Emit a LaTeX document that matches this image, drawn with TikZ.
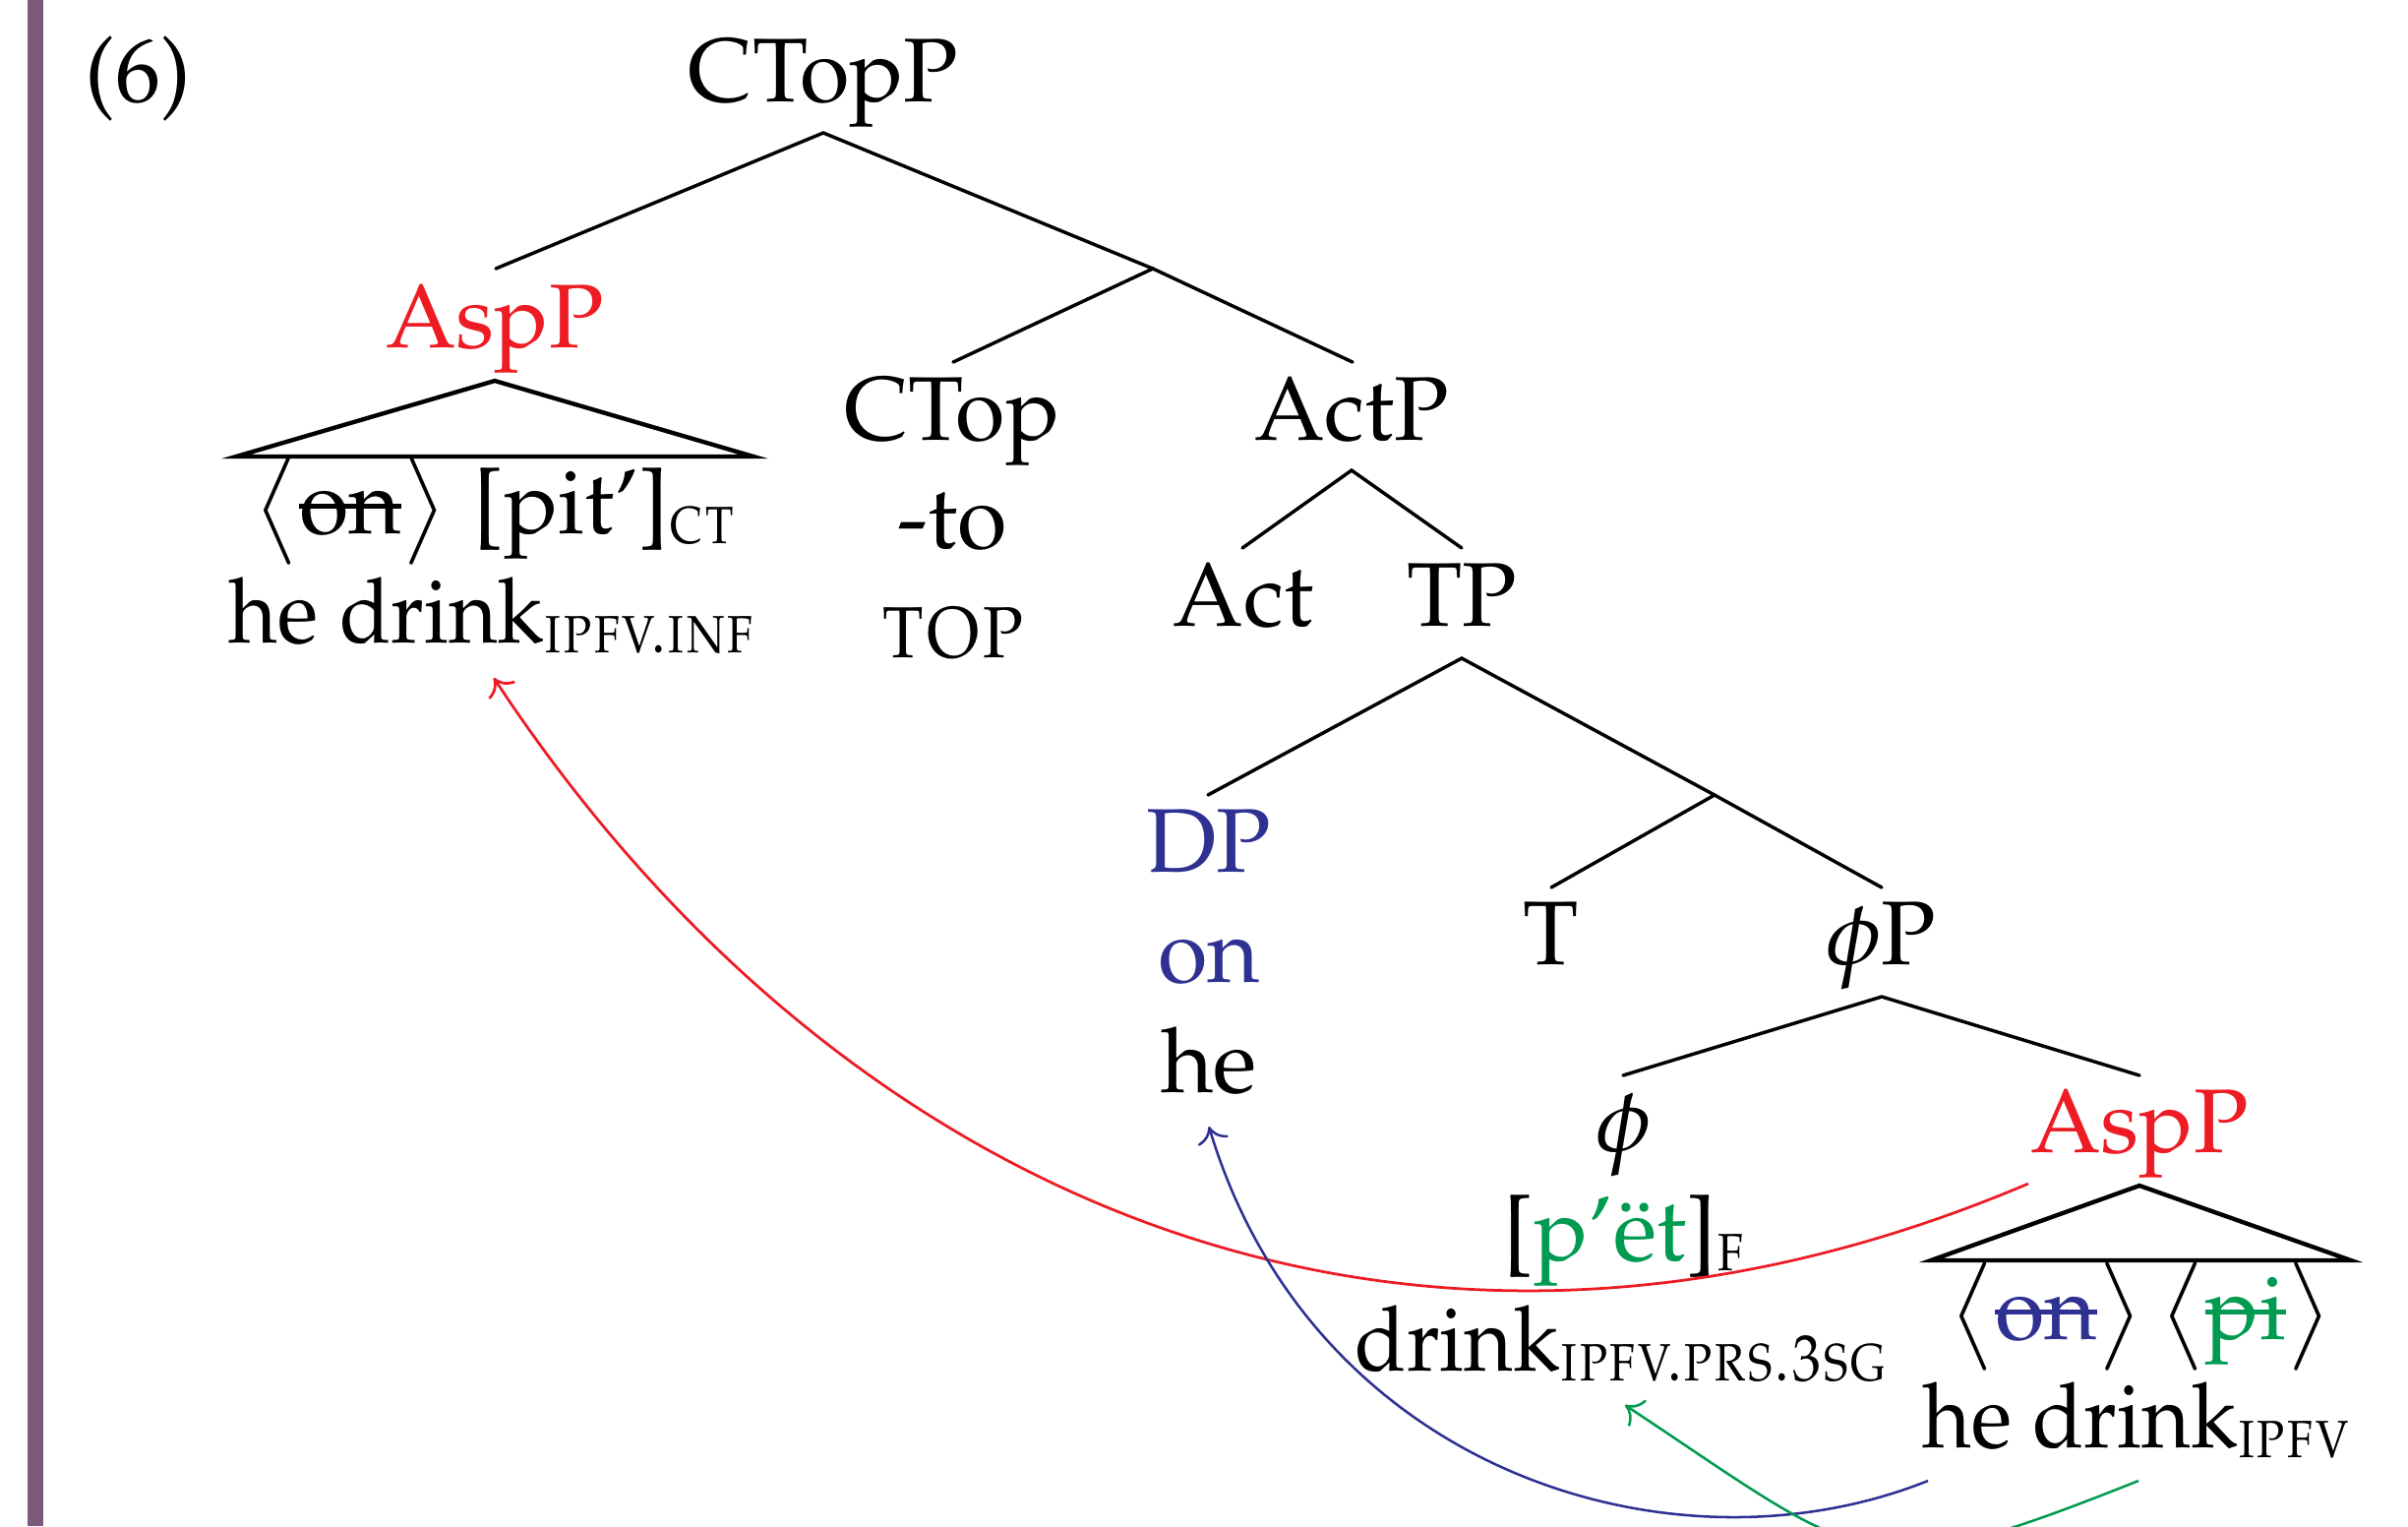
\documentclass[tikz,border=0pt]{standalone}
\usepackage[T1]{fontenc}
\usepackage{mathpazo}
\usepackage{graphicx}
\usetikzlibrary{arrows.meta}
\definecolor{myred}{RGB}{237,28,36}
\definecolor{myblue}{RGB}{46,49,146}
\definecolor{mygreen}{RGB}{0,155,80}
\definecolor{mypurple}{RGB}{125,90,125}
\newcommand\strk[1]{\setbox0=\hbox{#1}\rlap{\raisebox{0.27em}{\rule{\wd0}{0.06em}}}\box0}
\newcommand\gl[1]{\raisebox{-2.2pt}{\scalebox{0.87}[1]{\fontsize{14.5}{14.5}\selectfont\textsc{#1}}}}
\newcommand\nw[1]{\scalebox{0.93}[1]{#1}}
\newcommand\lng{$\bigl\langle$}
\newcommand\rng{$\bigr\rangle$}
\tikzset{
  lbl/.style={anchor=base, inner sep=0pt, font=\fontsize{20}{24}\selectfont},
  branch/.style={line width=0.75pt, line cap=round},
  roof/.style={line width=0.95pt, line join=miter},
  mv/.style={line width=0.6pt, -{Computer Modern Rightarrow[length=3.5pt,width=7pt]}},
}
\begin{document}
\begin{tikzpicture}[x=0.21739pt, y=-0.21739pt]
\useasboundingbox (0,0) rectangle (2448,1551);
\fill[mypurple] (28,0) rectangle (44,1551);

% labels
\node[lbl, anchor=base west] (ex) at (86,103) {(6)};
\node[lbl] (ctopp) at (837,103) {CTopP};
\node[lbl, text=myred] (asp1) at (503,353) {AspP};
\node[lbl] (asp1a) at (503,542) {\lng\strk{on}\rng\hspace{0.3em}[pit']\gl{ct}};
\node[lbl] (asp1b) at (500,653) {\nw{he drink}\gl{ipfv.inf}};
\node[lbl] (ctop) at (968,447) {CTop};
\node[lbl] (to) at (968,557) {-to};
\node[lbl] (topgl) at (969,668) {\scalebox{0.92}[1]{\textsc{top}}};
\node[lbl] (actp) at (1374,447) {ActP};
\node[lbl] (act) at (1264,636) {Act};
\node[lbl] (tp) at (1486,636) {TP};
\node[lbl, text=myblue] (dp) at (1229,886) {DP};
\node[lbl, text=myblue] (on) at (1229,998) {on};
\node[lbl] (he) at (1229,1110) {he};
\node[lbl] (t) at (1577,980) {T};
\node[lbl] (phip) at (1912,980) {$\phi$P};
\node[lbl] (phi) at (1651,1170) {$\phi$};
\node[lbl] (pet) at (1651,1281) {[\textcolor{mygreen}{p'\"et}]\gl{f}};
\node[lbl] (drink) at (1648,1393) {\nw{drink}\gl{ipfv.prs.3sg}};
\node[lbl, text=myred] (asp2) at (2175,1171) {AspP};
\node[lbl] (asp2a) at (2176,1361) {\lng\textcolor{myblue}{\strk{on}}\rng\hspace{0.2em}\lng\textcolor{mygreen}{\strk{pi}}\rng};
\node[lbl] (asp2b) at (2172,1471) {\nw{he drink}\gl{ipfv}};

% branch points
\coordinate (a0) at (837,135);
\coordinate (a0l) at (504,273);
\coordinate (cbar) at (1172,273);
\coordinate (cbl) at (969,368);
\coordinate (cbr) at (1375,368);
\coordinate (a1) at (1374,478);
\coordinate (a1l) at (1263,557);
\coordinate (a1r) at (1486,557);
\coordinate (a2) at (1486,669);
\coordinate (a2l) at (1228,808);
\coordinate (tbar) at (1743,808);
\coordinate (tbl) at (1577,902);
\coordinate (tbr) at (1913,902);
\coordinate (a3) at (1913,1013);
\coordinate (a3l) at (1650,1093);
\coordinate (a3r) at (2175,1093);

\draw[branch] (a0l) -- (a0) -- (cbar);
\draw[branch] (cbl) -- (cbar) -- (cbr);
\draw[branch] (a1l) -- (a1) -- (a1r);
\draw[branch] (a2l) -- (a2) -- (tbar);
\draw[branch] (tbl) -- (tbar) -- (tbr);
\draw[branch] (a3l) -- (a3) -- (a3r);

% roofs
\coordinate (r1) at (503,387);
\coordinate (r1l) at (240,464);
\coordinate (r1r) at (766,464);
\draw[roof] (r1) -- (r1l) -- (r1r) -- cycle;
\coordinate (r2) at (2175,1205);
\coordinate (r2l) at (1963,1281);
\coordinate (r2r) at (2390,1281);
\draw[roof] (r2) -- (r2l) -- (r2r) -- cycle;

% movement arrows
\coordinate (rs) at (2062,1203);
\coordinate (rt) at (502,689);
\coordinate (bs) at (1960,1505);
\coordinate (bt) at (1229,1145);
\coordinate (gs) at (2174,1505);
\coordinate (gt) at (1652,1428);
\begin{scope}
\clip (0,0) rectangle (2448,1551);
\draw[mv, myred] (rs) .. controls (1418,1476) and (845,1210) .. (rt);
\draw[mv, myblue, line width=0.55pt] (bs) .. controls (1700,1609) and (1334,1495) .. (bt);
\draw[mv, mygreen, line width=0.55pt] (gs) .. controls (1895,1616) and (1901,1593) .. (gt);
\end{scope}
\end{tikzpicture}
\end{document}
